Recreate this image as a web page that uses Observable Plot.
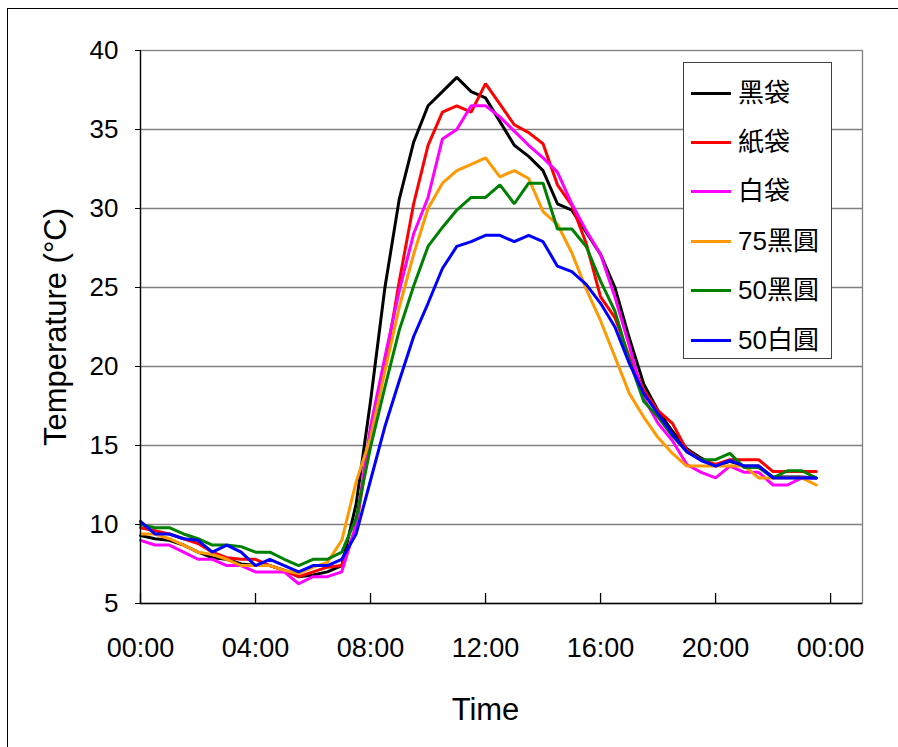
<!DOCTYPE html>
<html>
<head>
<meta charset="utf-8">
<script src="https://cdn.jsdelivr.net/npm/d3@7"></script>
<script src="https://cdn.jsdelivr.net/npm/@observablehq/plot@0.6"></script>
<style>
  html, body { margin: 0; padding: 0; background: #fff; overflow: hidden; }
  #wrap { position: relative; width: 898px; height: 747px; overflow: hidden; background: #fff; }
  #outer { position: absolute; left: 7px; top: 8px; width: 1000px; height: 1000px; border: 1px solid #000; box-sizing: border-box; }
  #chart { position: absolute; left: 0; top: 0; }
  #legend { position: absolute; left: 683px; top: 62px; width: 149px; height: 297px; border: 1px solid #404040; background: #fff; box-sizing: border-box; }
  .item { position: absolute; left: 0; height: 30px; width: 149px; }
  .swatch { position: absolute; left: 7px; width: 40px; height: 0; border-top: 3px solid; top: 14px; }
  .lab { position: absolute; left: 54px; top: 0; font: 26px "Liberation Sans", "Noto Sans CJK TC", sans-serif; line-height: 30px; color: #000; white-space: nowrap; }
</style>
</head>
<body>
<div id="wrap">
  <div id="outer"></div>
  <div id="chart"></div>
  <div id="legend"></div>
</div>
<script>
const times = ["00:00","00:30","01:00","01:30","02:00","02:30","03:00","03:30","04:00","04:30","05:00","05:30",
  "06:00","06:30","07:00","07:30","08:00","08:30","09:00","09:30","10:00","10:30","11:00","11:30",
  "12:00","12:30","13:00","13:30","14:00","14:30","15:00","15:30","16:00","16:30","17:00","17:30",
  "18:00","18:30","19:00","19:30","20:00","20:30","21:00","21:30","22:00","22:30","23:00","23:30"];

const seriesNames = ["黑袋", "紙袋", "白袋", "75黑圓", "50黑圓", "50白圓"];
const seriesColors = ["#000000", "#ff0000", "#ff00ff", "#ff9900", "#008000", "#0000ff"];

const blackBag = [9.3,9.1,9.0,8.7,8.25,7.9,7.8,7.5,7.4,7.4,7.1,6.7,6.8,7.0,7.4,11.3,17.8,25.0,30.6,34.2,36.5,37.4,38.3,37.4,
  37.0,35.5,34.0,33.3,32.4,30.3,29.9,28.5,27.1,25.0,21.8,18.9,17.2,15.9,14.8,14.2,13.7,14.0,13.7,13.7,13.0,13.0,13.0,12.95];
const paperBag = [9.8,9.6,9.4,9.1,8.8,8.25,7.9,7.8,7.8,7.4,7.1,6.7,7.0,7.3,7.4,9.8,15.7,20.0,25.4,30.3,34.0,36.1,36.5,36.1,
  37.9,36.6,35.3,34.8,34.1,31.5,30.2,27.8,24.4,23.1,20.6,18.5,17.2,16.4,14.7,14.1,13.8,14.1,14.1,14.1,13.35,13.35,13.35,13.35];
const whiteBag = [9.0,8.7,8.7,8.25,7.8,7.8,7.4,7.4,7.0,7.0,7.0,6.25,6.7,6.7,7.0,10.0,16.2,20.6,24.8,28.4,30.7,34.4,35.0,36.5,
  36.5,35.8,34.9,34.0,33.2,32.3,30.3,28.6,27.1,24.4,21.3,18.0,16.4,15.3,13.8,13.3,12.95,13.7,13.3,13.3,12.5,12.5,12.95,12.95];
const black75 = [9.4,9.4,9.1,8.7,8.25,8.1,7.8,7.4,7.4,7.4,7.1,6.9,7.3,7.6,9.0,12.7,15.5,19.7,23.75,27.1,30.0,31.6,32.4,32.8,
  33.2,32.0,32.4,31.9,29.8,29.0,27.2,24.9,22.9,20.6,18.3,16.8,15.5,14.5,13.7,13.7,13.7,13.7,13.7,12.95,12.95,12.95,12.95,12.5];
const black50 = [10.0,9.8,9.8,9.4,9.1,8.7,8.7,8.6,8.25,8.25,7.8,7.4,7.8,7.8,8.25,10.4,14.9,18.7,22.3,25.1,27.6,28.8,29.9,30.7,
  30.7,31.5,30.3,31.6,31.6,28.7,28.7,27.6,25.4,23.5,20.4,17.8,16.8,15.6,14.6,14.1,14.1,14.5,13.6,13.6,12.95,13.4,13.4,12.95];
const white50 = [10.2,9.4,9.4,9.1,9.0,8.25,8.7,8.25,7.4,7.8,7.4,7.0,7.4,7.4,7.8,9.4,12.8,16.2,19.1,21.9,24.0,26.2,27.6,27.9,
  28.3,28.3,27.9,28.3,27.9,26.35,26.0,25.2,24.0,22.5,20.2,18.3,17.0,15.7,14.6,14.05,13.7,14.05,13.7,13.7,12.95,12.95,12.95,12.95];

const yTicks = [5, 10, 15, 20, 25, 30, 35, 40];
const xTickLabels = ["00:00", "04:00", "08:00", "12:00", "16:00", "20:00", "00:00"];
const xTickHours = [0, 4, 8, 12, 16, 20, 24];

const allSeries = [blackBag, paperBag, whiteBag, black75, black50, white50];
const toHours = s => { const [h, m] = s.split(":").map(Number); return h + m / 60; };
const tables = allSeries.map((vals, i) => vals.map((v, j) => ({ t: toHours(times[j]), v, s: seriesNames[i] })));

const font = '"Liberation Sans", Arial, sans-serif';

const chart = Plot.plot({
  width: 898,
  height: 747,
  marginLeft: 140,
  marginRight: 36,
  marginTop: 50,
  marginBottom: 144,
  style: { fontFamily: font, background: "transparent", overflow: "visible" },
  x: { domain: [0, 25.11] },
  y: { domain: [5, 40] },
  marks: [
    Plot.gridY(yTicks.filter(d => d > 5 && d < 40), { stroke: "#808080", strokeOpacity: 1, strokeWidth: 1.3 }),
    Plot.frame({ stroke: "#808080", strokeWidth: 1.3 }),
    ...tables.map((tbl, i) => Plot.line(tbl, { x: "t", y: "v", stroke: seriesColors[i], strokeWidth: 3, strokeLinejoin: "miter", curve: "linear" })),
    Plot.ruleX([0], { stroke: "#000", strokeWidth: 1.3 }),
    Plot.ruleY([5], { stroke: "#000", strokeWidth: 1.3 }),
    Plot.tickX(xTickHours, { x: d => d, stroke: "#000", strokeWidth: 1.3, insetTop: 543 }),
    Plot.axisX(xTickHours, { tickSize: 0, tickPadding: 34, tickFormat: (d, i) => xTickLabels[i], fontSize: 27, label: null, letterSpacing: 0.5 }),
    Plot.axisY(yTicks, { tickSize: 5, tickPadding: 17, fontSize: 26, label: null, letterSpacing: 1 }),
    Plot.text(["Time"], { frameAnchor: "bottom", dy: 116, text: d => d, fontSize: 31, dx: -16, textAnchor: "middle" }),
    Plot.text(["Temperature (°C)"], { frameAnchor: "left", textAnchor: "middle", dx: -84, dy: 0, rotate: -90, text: d => d, fontSize: 31, letterSpacing: 1.6 })
  ]
});
document.getElementById("chart").appendChild(chart);

const legend = document.getElementById("legend");
const rowTops = [15, 64, 113, 163, 212, 262];
seriesNames.forEach((name, i) => {
  const row = document.createElement("div");
  row.className = "item";
  row.style.top = rowTops[i] + "px";
  const sw = document.createElement("div");
  sw.className = "swatch";
  sw.style.borderTopColor = seriesColors[i];
  const lab = document.createElement("div");
  lab.className = "lab";
  lab.textContent = name;
  row.appendChild(sw);
  row.appendChild(lab);
  legend.appendChild(row);
});
</script>
</body>
</html>
